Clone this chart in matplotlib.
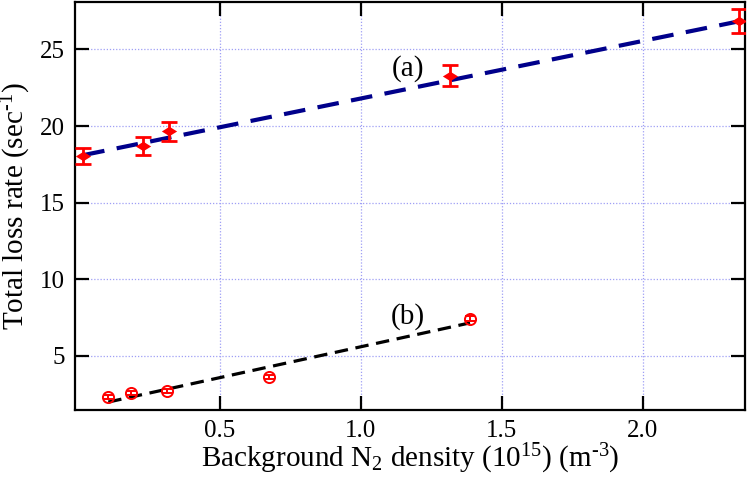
import matplotlib
matplotlib.use("Agg")
import matplotlib.pyplot as plt
from matplotlib.path import Path

plt.rcParams['font.family'] = ['Liberation Serif', 'DejaVu Serif']
plt.rcParams['mathtext.fontset'] = 'custom'
plt.rcParams['mathtext.rm'] = 'Liberation Serif'
plt.rcParams['mathtext.it'] = 'Liberation Serif:italic'

# Series (a)
xa = [0.015, 0.226, 0.319, 1.316, 2.34]
ya = [18.05, 18.7, 19.65, 23.3, 26.85]
ea = [0.54, 0.57, 0.6, 0.7, 0.8]
fit_a_x = [0.015, 2.362]
fit_a_y = [18.1, 26.92]

# Series (b)
xb = [0.104, 0.183, 0.313, 0.674, 1.387]
yb = [2.29, 2.55, 2.70, 3.63, 7.42]
eb = [0.12, 0.12, 0.12, 0.12, 0.15]
fit_b_x = [0.104, 1.387]
fit_b_y = [1.98, 7.15]

xticks = [0.5, 1.0, 1.5, 2.0]
xticklabels = ["0.5", "1.0", "1.5", "2.0"]
yticks = [5, 10, 15, 20, 25]

diamond = Path([(-1, 0), (0, 0.62), (1, 0), (0, -0.62), (-1, 0)],
               [Path.MOVETO, Path.LINETO, Path.LINETO, Path.LINETO, Path.CLOSEPOLY])

fig = plt.figure(figsize=(7.47, 4.82), dpi=100)
ax = fig.add_axes([75/747, 1 - 409.7/482, 670/747, 407.7/482])

ax.plot(fit_a_x, fit_a_y, color='#00008B', lw=3.0, dashes=(5.2, 3.0), zorder=2)
ax.plot(fit_b_x, fit_b_y, color='black', lw=2.3, dashes=(4.2, 2.4), zorder=2)

ax.errorbar(xa, ya, yerr=ea, fmt='none', ecolor='red',
            elinewidth=2.0, capsize=5.5, capthick=2.0, zorder=3)
ax.plot(xa, ya, linestyle='none', marker=diamond, color='red', ms=11, mew=0, zorder=4)
ax.errorbar(xb, yb, yerr=eb, fmt='o', mfc='none', mec='red', color='red',
            ms=8, mew=1.4, elinewidth=1.4, capsize=3.5, capthick=1.4, zorder=3)

ax.text(1.167, 23.76, "(a)", fontsize=21, ha='center', va='center')
ax.text(1.167, 7.54, "(b)", fontsize=21, ha='center', va='center')

ax.set_xlim(-0.014, 2.362)
ax.set_ylim(1.48, 28.1)
ax.set_xticks(xticks)
ax.set_xticklabels(xticklabels)
ax.set_yticks(yticks)

ax.grid(True, color='#9f9ff5', linestyle=(0, (1, 1.5)), lw=0.9)
ax.set_axisbelow(True)

for s in ax.spines.values():
    s.set_linewidth(1.6)
ax.tick_params(direction='in', length=10, width=1.6, top=True, right=True,
               labelsize=18)
ax.tick_params(axis='x', pad=7.5)
ax.tick_params(axis='y', pad=7)

ax.set_xlabel(r"Background N$_2$ density (10$^{15}$) (m$^{\text{-3}}$)", fontsize=21, labelpad=0)
ax.set_ylabel(r"Total loss rate (sec$^{\text{-1}}$)", fontsize=21)
ax.yaxis.set_label_coords((33 - 75) / 670, 0.5)

fig.savefig("out.png", dpi=100)
